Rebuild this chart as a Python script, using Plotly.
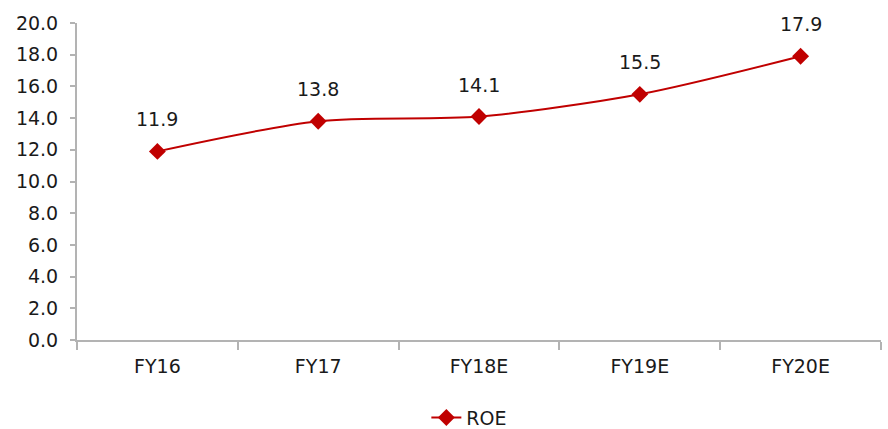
import plotly.graph_objects as go

# Return on equity by fiscal year
years = ["FY16", "FY17", "FY18E", "FY19E", "FY20E"]
roe = [11.9, 13.8, 14.1, 15.5, 17.9]
y_ticks = [0, 2, 4, 6, 8, 10, 12, 14, 16, 18, 20]

red = "#C00000"
axis_grey = "#B3B3B3"
font = dict(family="DejaVu Sans", size=19, color="#1a1a1a")

fig = go.Figure()
fig.add_trace(go.Scatter(
    x=years, y=roe, name="ROE",
    mode="lines+markers",
    line=dict(color=red, width=2, shape="spline", smoothing=0.8),
    marker=dict(symbol="diamond", size=13, color=red),
))

# value labels above each point
for x, v in zip(years, roe):
    fig.add_annotation(x=x, y=v, text=f"{v:.1f}", showarrow=False,
                       yshift=32, font=font)

fig.update_layout(
    width=888, height=429,
    margin=dict(l=77, r=7, t=23, b=89, autoexpand=False),
    paper_bgcolor="white", plot_bgcolor="white",
    font=font,
    showlegend=True,
    legend=dict(orientation="h", x=0.488, xanchor="center", y=-0.245,
                yanchor="middle", font=font),
)
fig.update_xaxes(
    range=[-0.5, len(years) - 0.5],
    showline=True, linecolor=axis_grey, linewidth=2,
    ticks="outside", ticklen=8, tickcolor=axis_grey, tickwidth=2,
    tickson="boundaries", ticklabelstandoff=8,
    showgrid=False, zeroline=False,
)
fig.update_yaxes(
    range=[0, 20], tickvals=y_ticks,
    ticktext=[f"{t:.1f}" for t in y_ticks],
    showline=True, linecolor=axis_grey, linewidth=2,
    ticks="outside", ticklen=5, tickcolor=axis_grey, tickwidth=2,
    ticklabelstandoff=8,
    showgrid=False, zeroline=False,
)

fig.write_html("out.html")
